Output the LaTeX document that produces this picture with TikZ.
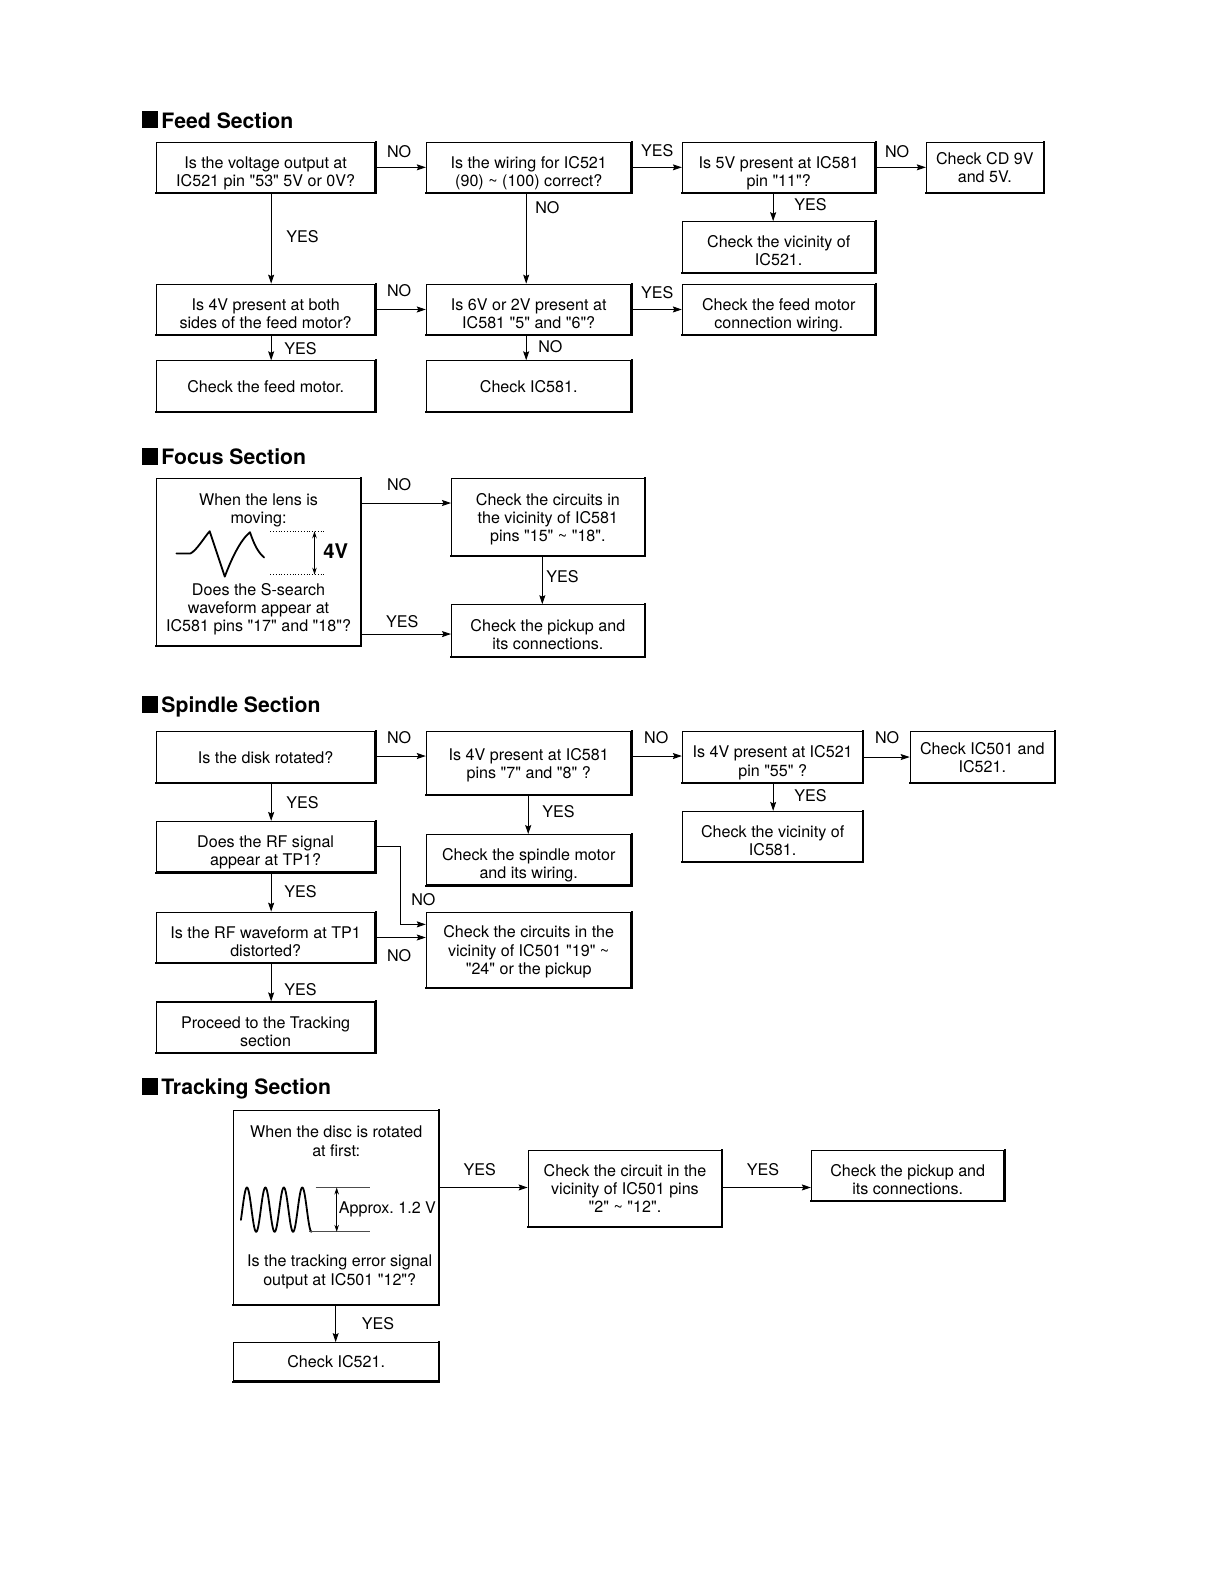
\documentclass[tikz,border=0pt]{standalone}
\usepackage{fontspec}
\setmainfont{TeX Gyre Heros}[Ligatures=TeXOff]
\usetikzlibrary{arrows.meta}
\frenchspacing
\tikzset{
 every node/.style={font=\fontsize{16.1}{18.1}\selectfont\frenchspacing, inner sep=0pt, text=black},
 bx/.style={draw=black, line width=1.2pt, align=center, inner sep=0pt, text depth=0pt},
 low/.style={text height=38pt},
 shd/.style={line width=2pt, line cap=rect},
 arr/.style={line width=0.9pt, -{Stealth[length=9pt,width=6pt,inset=1.5pt]}},
 hd/.style={font=\fontsize{21.2}{24}\selectfont\bfseries, anchor=base west, text=black},
 wave/.style={line width=1.8pt, line join=round, line cap=round},
 dim/.style={line width=0.8pt, {Stealth[length=7pt,width=4.5pt]}-{Stealth[length=7pt,width=4.5pt]}},
}
\newcommand{\bxn}[7][]{\node[bx, #1, minimum width={(#5-#3)*1.008pt}, minimum height={(#6-#4)*1.008pt}] (#2) at ({(#3+#5)/2},{(#4+#6)/2}) {#7};\draw[shd] (#2.north east) -- (#2.south east) -- (#2.south west);}
\newcommand{\hdr}[3]{\fill (141,#2) rectangle (157,#2-17); \node[hd] (#1) at (160,#2) {#3};}
\begin{document}
\begin{tikzpicture}[x=1.008pt,y=-1.008pt]
\useasboundingbox[fill=white] (0,0) rectangle (1209.3,1569.4);

% ================= Feed Section
\hdr{h1}{127}{Feed Section}
\bxn[low]{A}{155}{141}{372}{191}{Is the voltage output at\\IC521 pin "53" 5V or 0V?}
\bxn[low]{B}{423}{141}{626}{191}{Is the wiring for IC521\\(90) \textasciitilde{} (100) correct?}
\bxn[low]{C}{677}{141}{868}{191}{Is 5V present at IC581\\pin "11"?}
\bxn{D}{919}{141}{1035}{191}{Check CD 9V\\and 5V.}
\bxn[low]{E}{677}{220}{868}{270}{Check the vicinity of\\IC521.}
\bxn[low]{F}{155}{282}{372}{332}{Is 4V present at both\\sides of the feed motor?}
\bxn[low]{G}{423}{282}{626}{332}{Is 6V or 2V present at\\IC581 "5" and "6"?}
\bxn[low]{H}{677}{282}{868}{332}{Check the feed motor\\connection wiring.}
\bxn{I}{155}{358}{372}{408}{Check the feed motor.}
\bxn{J}{423}{358}{626}{408}{Check IC581.}

\coordinate (x269) at (269,0);
\coordinate (x522) at (522,0);
\coordinate (x767) at (767,0);
\draw[arr] (A) -- (B);
\draw[arr] (B) -- (C);
\draw[arr] (C) -- (D);
\draw[arr] (A.south -| x269) -- (F.north -| x269);
\draw[arr] (B.south -| x522) -- (G.north -| x522);
\draw[arr] (C.south -| x767) -- (E.north -| x767);
\draw[arr] (F) -- (G);
\draw[arr] (G) -- (H);
\draw[arr] (F.south -| x269) -- (I.north -| x269);
\draw[arr] (G.south -| x522) -- (J.north -| x522);
\node (l1) at (396,150) {NO};
\node (l2) at (652,149) {YES};
\node (l3) at (890,150) {NO};
\node (l4) at (300,235) {YES};
\node (l5) at (543,206) {NO};
\node (l6) at (804,203) {YES};
\node (l7) at (396,288) {NO};
\node (l8) at (652,290) {YES};
\node (l9) at (298,346) {YES};
\node (l10) at (546,344) {NO};

% ================= Focus Section
\hdr{h2}{461}{Focus Section}
\bxn{K}{155}{475}{358}{640}{}
\node[align=center, text depth=0pt] (Kt1) at (256.5,505) {When the lens is\\moving:};
\node[align=center, text depth=0pt] (Kt2) at (256.5,603) {Does the S-search\\waveform appear at\\IC581 pins "17" and "18"?};
\draw[wave] (175,549) -- (189,549) .. controls (195,546) and (202,534) .. (208,527) -- (223,572) .. controls (229,556) and (238,536) .. (248,528) .. controls (252,540) and (256,548) .. (262,553);
\draw[line width=0.8pt, dotted] (268,527) -- (323,527);
\draw[line width=0.8pt, dotted] (268,570) -- (323,570);
\draw[dim] (312,527) -- (312,570);
\node[font=\fontsize{20.2}{22}\selectfont\bfseries] (v4) at (333,547) {4V};
\bxn{L}{448}{475}{639}{551}{Check the circuits in\\the vicinity of IC581\\pins "15" \textasciitilde{} "18".}
\bxn[low]{M}{448}{600}{639}{651}{Check the pickup and\\its connections.}
\coordinate (y499) at (0,499);
\coordinate (y629) at (0,629);
\coordinate (x538) at (538,0);
\draw[arr] (K.east |- y499) -- (L.west |- y499);
\draw[arr] (K.east |- y629) -- (M.west |- y629);
\draw[arr] (L.south -| x538) -- (M.north -| x538);
\node (l11) at (396,481) {NO};
\node (l12) at (399,617) {YES};
\node (l13) at (558,572) {YES};

% ================= Spindle Section
\hdr{h3}{707}{Spindle Section}
\bxn{N}{155}{726}{372}{776}{Is the disk rotated?}
\bxn{O}{423}{726}{626}{788}{Is 4V present at IC581\\pins "7" and "8" ?}
\bxn[low]{P}{677}{726}{856}{776}{Is 4V present at IC521\\pin "55" ?}
\bxn{Q}{903}{726}{1046}{776}{Check IC501 and\\IC521.}
\bxn[low]{R}{677}{805}{856}{855}{Check the vicinity of\\IC581.}
\bxn[low]{S}{155}{815}{372}{865}{Does the RF signal\\appear at TP1?}
\bxn[low]{T}{423}{828}{626}{878}{Check the spindle motor\\and its wiring.}
\bxn[low]{U}{155}{905}{372}{955}{Is the RF waveform at TP1\\distorted?}
\bxn{V}{423}{905}{626}{980}{Check the circuits in the\\vicinity of IC501 "19" \textasciitilde\\"24" or the pickup}
\bxn[low]{W}{155}{994}{372}{1044}{Proceed to the Tracking\\section}

\coordinate (y750) at (0,750);
\coordinate (x524) at (524,0);
\draw[arr] (N.east |- y750) -- (O.west |- y750);
\draw[arr] (O.east |- y750) -- (P.west |- y750);
\draw[arr] (P) -- (Q);
\draw[arr] (N.south -| x269) -- (S.north -| x269);
\draw[arr] (O.south -| x524) -- (T.north -| x524);
\draw[arr] (P.south -| x767) -- (R.north -| x767);
\coordinate (sv) at (397,917);
\draw[arr] (S.east) -| (sv) -- (sv -| V.west);
\draw[arr] (U.east) -- (U.east -| V.west);
\draw[arr] (S.south -| x269) -- (U.north -| x269);
\draw[arr] (U.south -| x269) -- (W.north -| x269);
\node (l14) at (396,732) {NO};
\node (l15) at (651,732) {NO};
\node (l16) at (880,732) {NO};
\node (l17) at (300,796) {YES};
\node (l18) at (554,805) {YES};
\node (l19) at (804,789) {YES};
\node (l20) at (420,892) {NO};
\node (l21) at (396,948) {NO};
\node (l22) at (298,885) {YES};
\node (l23) at (298,982) {YES};

% ================= Tracking Section
\hdr{h4}{1086}{Tracking Section}
\bxn{X}{232}{1102}{435}{1294}{}
\node[align=center, text depth=0pt] (Xt1) at (333.5,1132) {When the disc is rotated\\at first:};
\node[align=center, text depth=0pt] (Xt2) at (337,1260) {Is the tracking error signal\\output at IC501 "12"?};
\draw[wave] plot[domain=0:70, samples=140, smooth] ({239+\x},{1200-22*sin((\x-1.4)*19.67)});
\draw[line width=0.8pt, black!70] (313,1178) -- (367,1178);
\draw[line width=0.8pt, black!70] (307,1222) -- (367,1222);
\draw[dim] (334,1178) -- (334,1222);
\node[anchor=west] (ap) at (336,1200) {Approx. 1.2 V};
\bxn{Y}{524}{1141}{716}{1217}{Check the circuit in the\\vicinity of IC501 pins\\"2" \textasciitilde{} "12".}
\bxn[low]{Z}{805}{1141}{996}{1191}{Check the pickup and\\its connections.}
\bxn{AA}{232}{1332}{435}{1370}{Check IC521.}
\coordinate (y1178) at (0,1178);
\coordinate (x333) at (333,0);
\draw[arr] (X.east |- y1178) -- (Y.west |- y1178);
\draw[arr] (Y.east |- y1178) -- (Z.west |- y1178);
\draw[arr] (X.south -| x333) -- (AA.north -| x333);
\node (l24) at (476,1160) {YES};
\node (l25) at (757,1160) {YES};
\node (l26) at (375,1313) {YES};
\end{tikzpicture}
\end{document}
